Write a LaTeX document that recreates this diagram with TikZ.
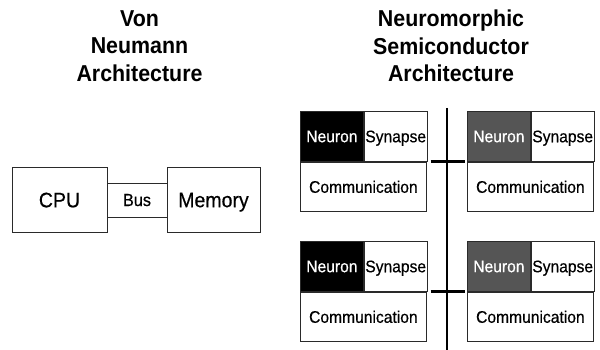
\documentclass[tikz,border=0pt]{standalone}
\usepackage{fontspec}
\setmainfont[FakeStretch=0.93,UprightFeatures={FakeBold=0.5}]{Liberation Sans}
\usetikzlibrary{positioning,calc}
\definecolor{neugray}{HTML}{555555}
\definecolor{edgegray}{HTML}{2A2A2A}
\tikzset{
    box/.style={draw=edgegray,line width=0.8pt,inner sep=0pt,fill=white,text depth=0pt},
    head/.style={align=center,inner sep=0pt,font=\bfseries\fontsize{23}{27.4}\selectfont},
    cell/.style={box,anchor=north west,minimum width=63pt,minimum height=50pt,font=\fontsize{16.8}{18}\selectfont},
    bus/.style={line width=3pt,line cap=butt},
}

\begin{document}
\begin{tikzpicture}[x=1pt,y=-1pt]
		\useasboundingbox (0,0) rectangle (600,350);
		\node[head] (vn) at (139.5,46) {Von\\Neumann\\Architecture};
		\node[head] (nm) at (451,46) {Neuromorphic\\Semiconductor\\Architecture};
		\node[box,minimum width=95pt,minimum height=65pt,font=\fontsize{21}{24}\selectfont] (cpu) at (59.5,200) {CPU};
		\node[box,minimum width=93pt,minimum height=65pt,font=\fontsize{21}{24}\selectfont] (mem) at (213.5,200) {Memory};
		\node[box,minimum width=60pt,minimum height=34pt,font=\fontsize{17.5}{20}\selectfont] (bus) at ($(cpu.east)!0.5!(mem.west)$) {Bus};
		\foreach \m/\x/\y/\c in {a/300/111/black,b/467/111/neugray,c/300/241/black,d/467/241/neugray} {
			\node[cell,fill=\c,text=white] (neu\m) at (\x,\y) {Neuron};
			\node[cell,right=0pt of neu\m] (syn\m) {Synapse};
			\node[cell,minimum width=126pt,minimum height=49pt] (com\m) at (neu\m.south west) {Communication};
		}
		\coordinate (top) at (447,108);
		\coordinate (bot) at (447,350);
		\draw[bus,line width=2.5pt] (top) -- (bot);
		\draw[bus] ([xshift=3pt]syna.south east) -- ([xshift=-2pt]comb.north west);
		\draw[bus] ([xshift=3pt]sync.south east) -- ([xshift=-2pt]comd.north west);
	\end{tikzpicture}
\end{document}
